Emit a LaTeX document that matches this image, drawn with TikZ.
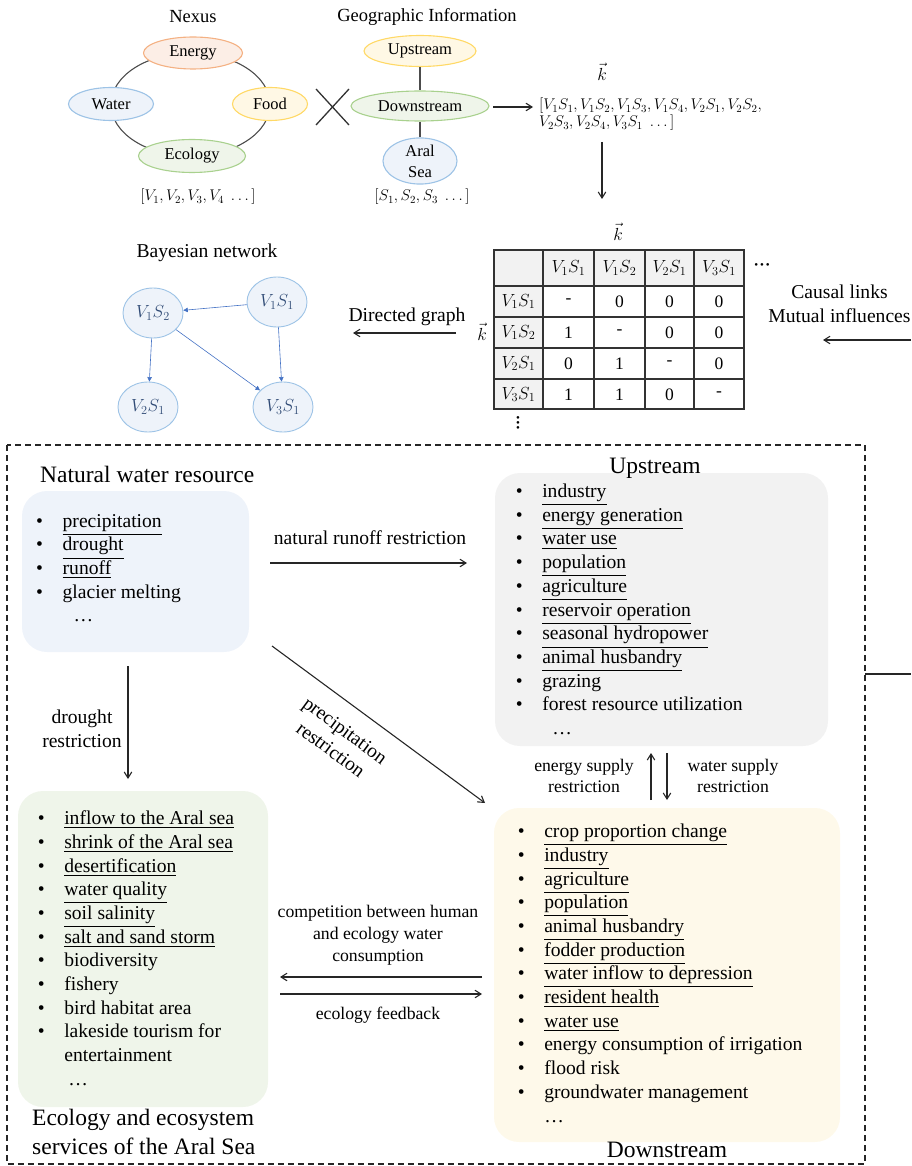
\RequirePackage{fix-cm}
\documentclass[tikz,border=0pt]{standalone}
\usepackage{amsmath}
\usepackage{fontspec}
\setmainfont{Liberation Serif}
\usepackage{xcolor}
\usepackage{tikz}
\usetikzlibrary{arrows.meta, positioning, shapes.geometric}

\definecolor{bluefill}{HTML}{EEF3FA}
\definecolor{blueline}{HTML}{9DC3E6}
\definecolor{orangefill}{HTML}{FCEEE6}
\definecolor{orangeline}{HTML}{F4B183}
\definecolor{yellowfill}{HTML}{FFF8E5}
\definecolor{yellowline}{HTML}{FFD966}
\definecolor{greenfill}{HTML}{EFF5EA}
\definecolor{greenline}{HTML}{A9D18E}
\definecolor{grayfill}{HTML}{F2F2F2}
\definecolor{creamfill}{HTML}{FEF9EA}
\definecolor{bayesline}{HTML}{4472C4}
\definecolor{bayestext}{HTML}{2F4A75}

\newcommand{\bul}[1]{\makebox[26.5pt][l]{\textbullet}#1}
\newcommand{\uln}[1]{\underline{#1}}

\begin{document}
\begin{tikzpicture}[x=1pt, y=-1pt,
		lbl/.style={font=\fontsize{17.7}{21}\selectfont, align=center, inner sep=0pt},
		midlbl/.style={font=\fontsize{19.6}{24}\selectfont, align=center, inner sep=0pt},
		bigtitle/.style={font=\fontsize{23.5}{29}\selectfont, align=left, inner sep=0pt},
		oval/.style={ellipse, draw, line width=1.1pt, inner sep=0pt, font=\fontsize{16.5}{21}\selectfont, align=center},
		bayes/.style={ellipse, draw=blueline, fill=bluefill, line width=0.9pt, minimum width=60pt, minimum height=50pt, inner sep=0pt, text=bayestext, font=\fontsize{17.5}{18}\selectfont},
		arr/.style={-{Straight Barb[length=6pt, width=7.5pt]}, line width=1.1pt, black!85},
		barr/.style={-{Triangle[length=4.5pt, width=4.5pt]}, bayesline, line width=0.6pt},
		ringline/.style={line width=1.1pt, black!70},
		panel/.style={rounded corners=25pt, inner sep=0pt},
		items/.style={font=\fontsize{19.6}{23.7}\selectfont, align=left, inner sep=0pt, anchor=north west},
		cell/.style={font=\fontsize{17.5}{18}\selectfont, inner sep=0pt},
		vecfont/.style={font=\fontsize{15.5}{17}\selectfont, inner sep=0pt},
	]
	\useasboundingbox (0,0) rectangle (911,1166);
	% Nexus and geographic information:
	\draw[ringline] (190.5,104.5) ellipse [x radius=79.5pt, y radius=51.5pt];
	\node[font=\fontsize{18.5}{20}\selectfont, inner sep=0pt](nexus) at (193,17){Nexus};
	\node[oval, draw=orangeline, fill=orangefill, minimum width=99pt, minimum height=32pt](energy) at (193,53){Energy};
	\node[oval, draw=blueline, fill=bluefill, minimum width=85pt, minimum height=33pt](water) at (111,104){Water};
	\node[oval, draw=yellowline, fill=yellowfill, minimum width=75pt, minimum height=33pt](food) at (270,104){Food};
	\node[oval, draw=greenline, fill=greenfill, minimum width=107pt, minimum height=33pt](ecology) at (192,156){Ecology};
	\node[vecfont](vnexus) at (198,197){$[V_1, V_2, V_3, V_4\;\dots]$};
	\draw[line width=1.3pt, black!80] (316,89) -- (349,125) (316,125) -- (349,89);
	\node[font=\fontsize{18.5}{20}\selectfont, inner sep=0pt](geo) at (427,17){Geographic Information};
	\node[oval, draw=yellowline, fill=yellowfill, minimum width=112pt, minimum height=31pt](up) at (420,51){Upstream};
	\node[oval, draw=greenline, fill=greenfill, minimum width=138pt, minimum height=30pt](down) at (420,106){Downstream};
	\node[oval, draw=blueline, fill=bluefill, minimum width=74pt, minimum height=41pt](aral) at (420,161){Aral\\Sea};
	\draw[ringline] (up) -- (down);
	\draw[ringline] (down) -- (aral);
	\node[vecfont](snexus) at (422,197){$[S_1, S_2, S_3\;\dots]$};
	% combined vector:
	\node[font=\fontsize{17.5}{18}\selectfont, inner sep=0pt](ktop) at (602,72){$\vec{k}$};
	\node[vecfont, align=left, anchor=west](kvec) at (539,114.5){$[V_1S_1, V_1S_2, V_1S_3, V_1S_4, V_2S_1, V_2S_2,$\\$V_2S_3, V_2S_4, V_3S_1\;\dots]$};
	\coordinate (kin) at (493,107);
	\coordinate (kout) at (533,107);
	\draw[arr] (kin) -- (kout);
	\coordinate (kdowna) at (602,142);
	\coordinate (kdownb) at (602,199);
	\draw[arr] (kdowna) -- (kdownb);
	% adjacency table:
	\node[font=\fontsize{17.5}{18}\selectfont, inner sep=0pt](kcol) at (618,232){$\vec{k}$};
	\node[font=\fontsize{17.5}{18}\selectfont, inner sep=0pt](krow) at (482,332){$\vec{k}$};
	\fill[grayfill] (494,250) rectangle (744,286);
	\fill[grayfill] (494,286) rectangle (543,409);
	\foreach \x in {543,594,645,694} \draw[line width=1.1pt, black!80] (\x,250) -- (\x,409);
	\foreach \y in {286,317,348,379} \draw[line width=1.1pt, black!80] (494,\y) -- (744,\y);
	\draw[line width=1.2pt, black!80] (494,250) rectangle (744,409);
	\foreach \lab/\cx [count=\i] in {V_1S_1/568.5, V_1S_2/619.5, V_2S_1/669.5, V_3S_1/719}
		\node[cell](hd\i) at (\cx,268){$\lab$};
	\foreach \lab/\cy/\ca/\cb/\cc/\cd [count=\i] in {V_1S_1/301.5/-/0/0/0, V_1S_2/332.5/1/-/0/0, V_2S_1/363.5/0/1/-/0, V_3S_1/394.5/1/1/0/-}{
		\node[cell](rw\i) at (518.5,\cy){$\lab$};
		\node[cell](c\i a) at (568.5,\cy){\ca};
		\node[cell](c\i b) at (619.5,\cy){\cb};
		\node[cell](c\i c) at (669.5,\cy){\cc};
		\node[cell](c\i d) at (719,\cy){\cd};
	}
	\node[font=\fontsize{11}{11}\selectfont, inner sep=0pt](hdots) at (762,266){\textbullet\,\textbullet\,\textbullet};
	\node[font=\fontsize{11}{5}\selectfont, align=center, inner sep=0pt](vdots) at (518,424){\textbullet\\\textbullet\\\textbullet};
	\node[midlbl](causal) at (839.5,304){Causal links\\Mutual influences};
	\coordinate (causala) at (911,340);
	\coordinate (causalb) at (823,340);
	\draw[arr] (causala) -- (causalb);
	% Bayesian network:
	\node[midlbl](bntitle) at (207,253){Bayesian network};
	\node[bayes](v1s2) at (153,313){$V_1S_2$};
	\node[bayes](v1s1) at (277,302){$V_1S_1$};
	\node[bayes](v2s1) at (148,407){$V_2S_1$};
	\node[bayes](v3s1) at (283,407){$V_3S_1$};
	\draw[barr] (v1s1) -- (v1s2);
	\draw[barr] (v1s2) -- (v2s1);
	\draw[barr] (v1s2) -- (v3s1);
	\draw[barr] (v1s1) -- (v3s1);
	\node[midlbl](directed) at (407,317){Directed graph};
	\coordinate (dga) at (456,333);
	\coordinate (dgb) at (353,333);
	\draw[arr] (dga) -- (dgb);
	% system frame:
	\draw[line width=1.5pt, black!85, dash pattern=on 6pt off 4pt] (7,445) rectangle (865,1164);
	\coordinate (framer) at (865,674);
	\coordinate (framee) at (911,674);
	\draw[line width=1.1pt, black!85] (framer) -- (framee);
	% natural water resource:
	\node[bigtitle, anchor=base west](nattitle) at (40,482){Natural water resource};
	\node[panel, fill=bluefill, minimum width=227pt, minimum height=161pt](natbox) at (135.5,571.5){};
	\node[items](natlist) at (36,510.4){\strut\bul{\uln{precipitation}}\\\bul{\uln{drought}}\\\bul{\uln{runoff}}\\\bul{glacier melting}\\\hspace*{37.5pt}\dots};
	% upstream:
	\node[panel, fill=grayfill, minimum width=333pt, minimum height=273pt](upbox) at (661.5,609.5){};
	\node[bigtitle, anchor=base](uptitle) at (655,473){Upstream};
	\node[items](uplist) at (515.6,480.8){\strut\bul{\uln{industry}}\\\bul{\uln{energy generation}}\\\bul{\uln{water use}}\\\bul{\uln{population}}\\\bul{\uln{agriculture}}\\\bul{\uln{reservoir operation}}\\\bul{\uln{seasonal hydropower}}\\\bul{\uln{animal husbandry}}\\\bul{grazing}\\\bul{forest resource utilization}\\\hspace*{36.5pt}\dots};
	% ecology:
	\node[panel, fill=greenfill, minimum width=250pt, minimum height=316pt](ecobox) at (143,949){};
	\node[items](ecolist) at (37.6,807.8){\strut\bul{\uln{inflow to the Aral sea}}\\\bul{\uln{shrink of the Aral sea}}\\\bul{\uln{desertification}}\\\bul{\uln{water quality}}\\\bul{\uln{soil salinity}}\\\bul{\uln{salt and sand storm}}\\\bul{biodiversity}\\\bul{fishery}\\\bul{bird habitat area}\\\bul{lakeside tourism for}\\\hspace*{26.5pt}entertainment\\\hspace*{30.5pt}\dots};
	\node[bigtitle, anchor=north west](ecotitle) at (32,1104.7){\strut Ecology and ecosystem\\services of the Aral Sea};
	% downstream:
	\node[panel, fill=creamfill, minimum width=346pt, minimum height=334pt](downbox) at (667,975){};
	\node[items](downlist) at (517.6,820.8){\strut\bul{\uln{crop proportion change}}\\\bul{\uln{industry}}\\\bul{\uln{agriculture}}\\\bul{\uln{population}}\\\bul{\uln{animal husbandry}}\\\bul{\uln{fodder production}}\\\bul{\uln{water inflow to depression}}\\\bul{\uln{resident health}}\\\bul{\uln{water use}}\\\bul{energy consumption of irrigation}\\\bul{flood risk}\\\bul{groundwater management}\\\hspace*{26.5pt}\dots};
	\node[bigtitle, anchor=base](downtitle) at (667,1157){Downstream};
	% restrictions between the parts:
	\node[midlbl, anchor=base](runofflbl) at (370,544){natural runoff restriction};
	\coordinate (runoffa) at (270,563);
	\coordinate (runoffb) at (467,563);
	\draw[arr] (runoffa) -- (runoffb);
	\node[midlbl, anchor=north](droughtlbl) at (82,706.2){\strut drought\\restriction};
	\coordinate (droughta) at (128,666);
	\coordinate (droughtb) at (128,779);
	\draw[arr] (droughta) -- (droughtb);
	\node[midlbl, rotate=-36.5](preciplbl) at (338,740){precipitation\\restriction};
	\coordinate (precipa) at (272,646);
	\coordinate (precipb) at (485,803);
	\draw[arr] (precipa) -- (precipb);
	\coordinate (energya) at (651,800);
	\coordinate (energyb) at (651,753);
	\draw[arr] (energya) -- (energyb);
	\coordinate (watera) at (667,753);
	\coordinate (waterb) at (667,800);
	\draw[arr] (watera) -- (waterb);
	\node[lbl, anchor=north](energylbl) at (584,756.3){\strut energy supply\\restriction};
	\node[lbl, anchor=north](waterlbl) at (733,756.3){\strut water supply\\restriction};
	\node[lbl, anchor=north, font=\fontsize{17.7}{22}\selectfont](complbl) at (378,901.6){\strut competition between human\\and ecology water\\consumption};
	\coordinate (compa) at (482,977);
	\coordinate (compb) at (280,977);
	\draw[arr] (compa) -- (compb);
	\coordinate (feeda) at (280,994);
	\coordinate (feedb) at (482,994);
	\draw[arr] (feeda) -- (feedb);
	\node[lbl, anchor=base](feedlbl) at (378,1019.5){ecology feedback};
\end{tikzpicture}
\end{document}
